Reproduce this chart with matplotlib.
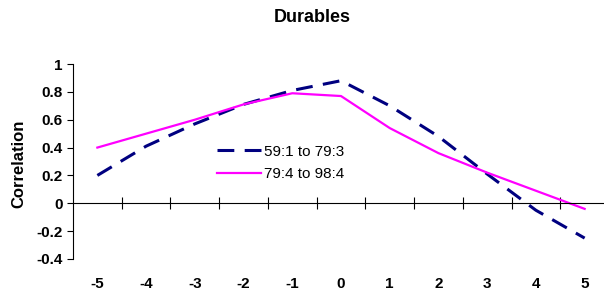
import matplotlib
matplotlib.use("Agg")
import matplotlib.pyplot as plt
import numpy as np

plt.rcParams['font.family'] = ['Liberation Sans', 'DejaVu Sans']

lags = [-5, -4, -3, -2, -1, 0, 1, 2, 3, 4, 5]
early = [0.20, 0.41, 0.57, 0.71, 0.81, 0.88, 0.70, 0.48, 0.21, -0.05, -0.25]
late = [0.40, 0.50, 0.60, 0.71, 0.79, 0.77, 0.54, 0.36, 0.22, 0.09, -0.04]
labels = ["59:1 to 79:3", "79:4 to 98:4"]
yticks = [-0.4, -0.2, 0, 0.2, 0.4, 0.6, 0.8, 1]
yticklabels = ["-0.4", "-0.2", "0", "0.2", "0.4", "0.6", "0.8", "1"]

fig = plt.figure(figsize=(6.04, 2.99), dpi=100)
ax = fig.add_axes([73/604, 40/299, 536/604, 195/299])

ax.plot(lags, early, color='#000080', lw=2.2, dashes=(5.5, 3.4), label=labels[0],
        dash_capstyle='butt')
ax.plot(lags, late, color='#FF00FF', lw=1.6, label=labels[1])

ax.set_xlim(-5.5, 5.5)
ax.set_ylim(-0.4, 1)
ax.set_yticks(yticks)
ax.set_yticklabels(yticklabels, fontweight='bold', fontsize=11)
ax.tick_params(axis='y', direction='out', length=4, width=0.8, pad=3.5)

ax.spines['top'].set_visible(False)
ax.spines['right'].set_visible(False)
ax.spines['bottom'].set_position(('data', 0))
ax.spines['left'].set_linewidth(0.8)
ax.spines['bottom'].set_linewidth(0.8)

ax.set_xticks(lags)
ax.set_xticklabels([str(v) for v in lags], fontweight='bold', fontsize=11)
ax.set_xticks(np.arange(-4.5, 5.0, 1.0), minor=True)
ax.tick_params(axis='x', which='major', length=0, pad=53)
ax.tick_params(axis='x', which='minor', direction='inout', length=8, width=0.8)

ax.set_ylabel("Correlation", fontweight='bold', fontsize=12)
ax.yaxis.set_label_coords(-47/536, 0.49)
fig.text(312/604, 1 - 17/299, "Durables", ha='center', va='center',
         fontweight='bold', fontsize=13)

leg = ax.legend(loc='center left', bbox_to_anchor=(144/536, (259 - 163)/195),
                frameon=False, fontsize=11, handlelength=2.9, handletextpad=0.15,
                labelspacing=0.55, borderaxespad=0, borderpad=0)

fig.savefig("out.png", dpi=100)
